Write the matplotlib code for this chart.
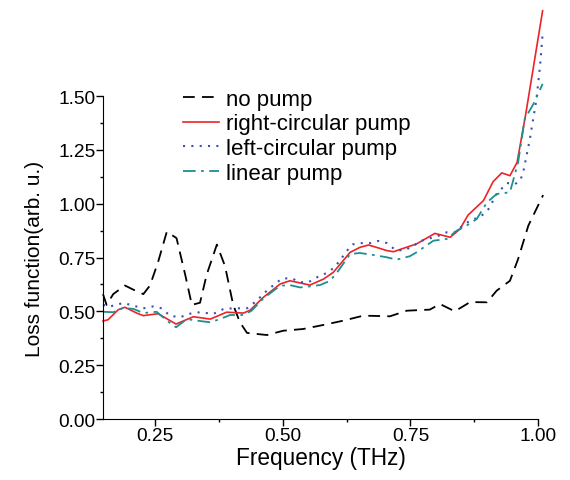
import matplotlib.pyplot as plt
from matplotlib.ticker import MultipleLocator, FormatStrFormatter

plt.rcParams["font.family"] = ["Liberation Sans", "DejaVu Sans"]

# ---- data ----
x_none = [0.148, 0.155, 0.168, 0.191, 0.208, 0.227, 0.240, 0.256, 0.273, 0.292,
          0.309, 0.322, 0.338, 0.351, 0.371, 0.387, 0.403, 0.416, 0.430, 0.449,
          0.469, 0.501, 0.540, 0.580, 0.619, 0.658, 0.710, 0.743, 0.788, 0.808,
          0.837, 0.867, 0.900, 0.919, 0.945, 0.961, 0.981, 1.010]
y_none = [0.58, 0.53, 0.58, 0.62, 0.60, 0.58, 0.62, 0.73, 0.87, 0.84,
          0.67, 0.53, 0.54, 0.67, 0.81, 0.71, 0.53, 0.45, 0.40, 0.395,
          0.39, 0.41, 0.418, 0.437, 0.457, 0.48, 0.477, 0.503, 0.508, 0.534,
          0.50, 0.543, 0.542, 0.596, 0.642, 0.743, 0.898, 1.04]

x_right = [0.148, 0.158, 0.178, 0.191, 0.214, 0.227, 0.256, 0.291, 0.325, 0.358,
           0.390, 0.423, 0.436, 0.462, 0.495, 0.514, 0.534, 0.553, 0.580, 0.599,
           0.632, 0.651, 0.668, 0.684, 0.704, 0.717, 0.733, 0.762, 0.798, 0.828,
           0.847, 0.863, 0.893, 0.912, 0.929, 0.945, 0.959, 0.976, 1.009]
y_right = [0.455, 0.461, 0.508, 0.519, 0.492, 0.480, 0.489, 0.441, 0.475, 0.464,
           0.496, 0.492, 0.505, 0.565, 0.627, 0.642, 0.632, 0.622, 0.650, 0.681,
           0.774, 0.797, 0.808, 0.797, 0.782, 0.777, 0.790, 0.813, 0.862, 0.844,
           0.882, 0.947, 1.014, 1.102, 1.143, 1.130, 1.192, 1.417, 1.896]

x_left = [0.148, 0.162, 0.188, 0.208, 0.227, 0.247, 0.263, 0.279, 0.299, 0.315,
          0.338, 0.364, 0.384, 0.403, 0.430, 0.449, 0.465, 0.482, 0.499, 0.518,
          0.534, 0.550, 0.567, 0.585, 0.599, 0.612, 0.624, 0.637, 0.655, 0.671,
          0.687, 0.704, 0.720, 0.738, 0.756, 0.772, 0.788, 0.805, 0.821, 0.837,
          0.854, 0.870, 0.886, 0.903, 0.919, 0.939, 0.955, 0.965, 0.971, 0.984,
          0.997, 1.004, 1.009]
y_left = [0.53, 0.523, 0.539, 0.526, 0.514, 0.523, 0.514, 0.480, 0.472, 0.488,
          0.496, 0.488, 0.511, 0.514, 0.514, 0.549, 0.588, 0.622, 0.653, 0.653,
          0.635, 0.635, 0.658, 0.677, 0.700, 0.735, 0.777, 0.811, 0.817, 0.817,
          0.827, 0.817, 0.786, 0.782, 0.805, 0.828, 0.839, 0.851, 0.867, 0.867,
          0.901, 0.926, 0.936, 0.975, 1.045, 1.096, 1.091, 1.107, 1.146, 1.300,
          1.486, 1.641, 1.788]

x_lin = [0.148, 0.168, 0.188, 0.208, 0.227, 0.253, 0.273, 0.291, 0.312, 0.332,
         0.358, 0.377, 0.397, 0.423, 0.439, 0.462, 0.495, 0.514, 0.534, 0.553,
         0.573, 0.593, 0.609, 0.632, 0.651, 0.677, 0.704, 0.723, 0.749, 0.762,
         0.795, 0.821, 0.841, 0.860, 0.880, 0.900, 0.919, 0.945, 0.961, 0.974,
         0.991, 1.009]
y_lin = [0.498, 0.496, 0.516, 0.511, 0.492, 0.498, 0.457, 0.426, 0.464, 0.457,
         0.449, 0.464, 0.483, 0.483, 0.503, 0.560, 0.619, 0.622, 0.611, 0.616,
         0.622, 0.642, 0.689, 0.766, 0.771, 0.762, 0.751, 0.740, 0.756, 0.774,
         0.828, 0.836, 0.875, 0.898, 0.929, 1.006, 1.045, 1.053, 1.192, 1.393,
         1.463, 1.556]

fig = plt.figure(figsize=(5.70, 4.81), dpi=100)
ax = fig.add_axes([0.1807, 0.1268, 0.7632, 0.6715])

ax.plot(x_none, y_none, color="black", lw=1.3, dashes=(6.5, 4), label="no pump", clip_on=False)
ax.plot(x_right, y_right, color="#ee2228", lw=1.2, label="right-circular pump", clip_on=False)
ax.plot(x_left, y_left, color="#3a4fb8", lw=1.5, dashes=(1, 3), label="left-circular pump", clip_on=False)
ax.plot(x_lin, y_lin, color="#1a9090", lw=1.3, dashes=(7, 3, 1.5, 3), label="linear pump", clip_on=False)

ax.set_xlim(0.148, 1.0)
ax.set_ylim(0, 1.5)
ax.xaxis.set_major_locator(MultipleLocator(0.25))
ax.xaxis.set_minor_locator(MultipleLocator(0.125))
ax.yaxis.set_major_locator(MultipleLocator(0.25))
ax.yaxis.set_minor_locator(MultipleLocator(0.125))
ax.xaxis.set_major_formatter(FormatStrFormatter("%.2f"))
ax.yaxis.set_major_formatter(FormatStrFormatter("%.2f"))
ax.tick_params(which="major", direction="out", length=5, width=1, labelsize=13.8, pad=0.5)
ax.tick_params(which="minor", direction="out", length=2.5, width=1)
for s in ["top", "right"]:
    ax.spines[s].set_visible(False)

ax.set_xlabel("Frequency (THz)", fontsize=16.3, labelpad=2)
ax.set_ylabel("Loss function(arb. u.)", fontsize=15, labelpad=10)

ax.legend(loc="upper left", bbox_to_anchor=(0.184, 1.022), frameon=False, fontsize=16,
          handlelength=1.6, handletextpad=0.32, labelspacing=0.16, borderpad=0,
          borderaxespad=0)

fig.savefig("out.png", dpi=100)
